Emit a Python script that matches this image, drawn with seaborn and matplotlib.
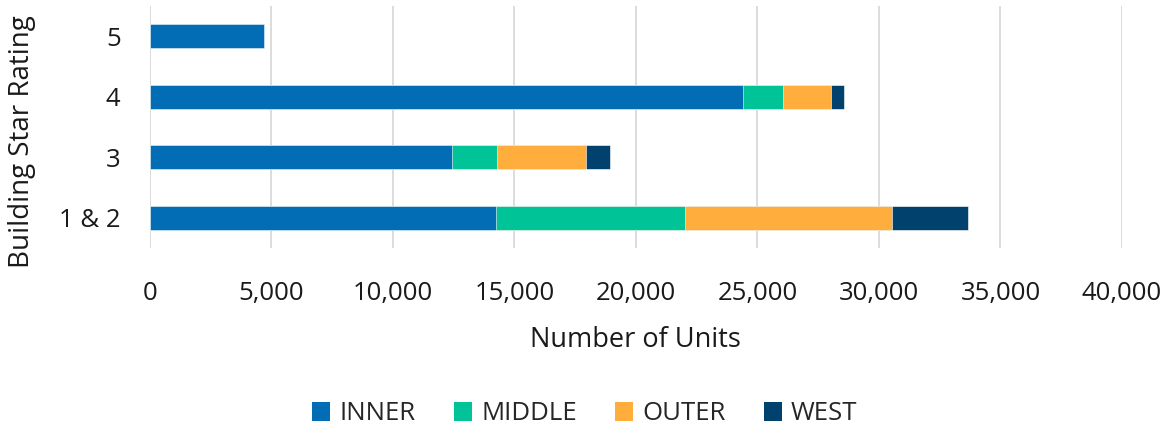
import numpy as np
import pandas as pd
import matplotlib
matplotlib.use("Agg")
import matplotlib.pyplot as plt
import seaborn as sns
from matplotlib.patches import Patch

# Building star rating categories (top to bottom)
ratings = ["5", "4", "3", "1 & 2"]

# Number of units by region
inner = [4720, 24400, 12440, 14250]
middle = [0, 1670, 1850, 7780]
outer = [0, 1950, 3640, 8500]
west = [0, 560, 1010, 3125]

series_names = ["INNER", "MIDDLE", "OUTER", "WEST"]
series_values = [inner, middle, outer, west]
colors = ["#026DB5", "#00C497", "#FFAE3D", "#00416E"]

xticks = [0, 5000, 10000, 15000, 20000, 25000, 30000, 35000, 40000]

sns.set_theme(style="white")
plt.rcParams["font.family"] = ["Open Sans", "DejaVu Sans"]

fig = plt.figure(figsize=(11.7, 4.3), dpi=100)
ax = fig.add_axes([0.128, 0.423, 0.831, 0.563])

# Stacked bars: draw cumulative totals from the outermost segment inward
cum = np.cumsum(np.array(series_values, dtype=float), axis=0)
for i in range(len(series_names) - 1, -1, -1):
    df = pd.DataFrame({"rating": ratings, "units": cum[i]})
    sns.barplot(data=df, x="units", y="rating", order=ratings, orient="h",
                color=colors[i], width=0.4, saturation=1,
                edgecolor="white", linewidth=0.4, ax=ax, zorder=3)

ax.set_xlim(0, 40000)
ax.set_ylim(3.5, -0.5)
ax.set_xticks(xticks)
ax.set_xticklabels([f"{v:,}" for v in xticks])
ax.tick_params(axis="x", labelsize=18.5, pad=24, length=0, colors="#1a1a1a")
ax.tick_params(axis="y", labelsize=18.5, pad=21, length=0, colors="#1a1a1a")
ax.grid(axis="x", color="#D9D9D9", linewidth=1.3, zorder=0)
ax.grid(axis="y", visible=False)
for s in ax.spines.values():
    s.set_visible(False)

ax.set_xlabel("Number of Units", fontsize=19.5, labelpad=14, color="#1a1a1a")
ax.set_ylabel("Building Star Rating", fontsize=20, color="#1a1a1a")
ax.yaxis.set_label_coords(-0.117, 0.44)

handles = [Patch(facecolor=c, edgecolor="none", label=n) for c, n in zip(colors, series_names)]
fig.legend(handles=handles, loc="center", bbox_to_anchor=(0.5, 0.038), ncol=4,
           frameon=False, fontsize=18.5, handlelength=0.7, handleheight=0.75,
           handletextpad=0.35, columnspacing=1.5)

fig.savefig("out.png", dpi=100)
